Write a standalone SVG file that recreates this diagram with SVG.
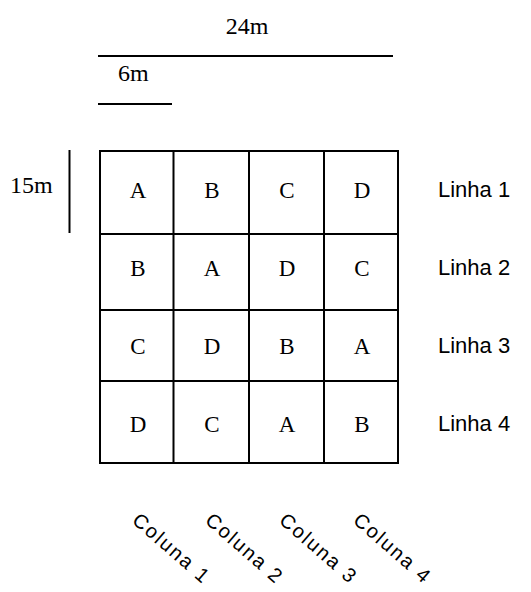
<svg xmlns="http://www.w3.org/2000/svg" width="531" height="592" viewBox="0 0 531 592">
<style>
.ln{stroke:#000;stroke-width:2;fill:none}
.t{font-family:"Liberation Serif","Times New Roman",serif;font-size:23px;fill:#000;text-anchor:middle}
.d{font-family:"Liberation Serif","Times New Roman",serif;font-size:24px;fill:#000}
.s{font-family:"Liberation Sans",Arial,sans-serif;font-size:22px;fill:#000}
.c{font-family:"Liberation Sans",Arial,sans-serif;font-size:20px;letter-spacing:2px;fill:#000}
</style>
<rect width="531" height="592" fill="#fff"/>
<g id="dimensions">
<text class="d" x="247" y="34" text-anchor="middle">24m</text>
<line class="ln" x1="98" y1="56" x2="393" y2="56"/>
<text class="d" x="118" y="81">6m</text>
<line class="ln" x1="98" y1="104" x2="172" y2="104"/>
<text class="d" x="10" y="193">15m</text>
<line class="ln" x1="69.5" y1="150" x2="69.5" y2="233"/>
</g>
<g id="grid">
<line class="ln" x1="99" y1="151" x2="399" y2="151"/>
<line class="ln" x1="99" y1="234" x2="399" y2="234"/>
<line class="ln" x1="99" y1="310" x2="399" y2="310"/>
<line class="ln" x1="99" y1="381" x2="399" y2="381"/>
<line class="ln" x1="99" y1="463" x2="399" y2="463"/>
<line class="ln" x1="100" y1="150" x2="100" y2="464"/>
<line class="ln" x1="173.5" y1="150" x2="173.5" y2="464"/>
<line class="ln" x1="249" y1="150" x2="249" y2="464"/>
<line class="ln" x1="324" y1="150" x2="324" y2="464"/>
<line class="ln" x1="398" y1="150" x2="398" y2="464"/>
</g>
<g id="cells">
<text class="t" x="138" y="198">A</text><text class="t" x="212" y="198">B</text><text class="t" x="287" y="198">C</text><text class="t" x="362" y="198">D</text>
<text class="t" x="138" y="276">B</text><text class="t" x="212" y="276">A</text><text class="t" x="287" y="276">D</text><text class="t" x="362" y="276">C</text>
<text class="t" x="138" y="354">C</text><text class="t" x="212" y="354">D</text><text class="t" x="287" y="354">B</text><text class="t" x="362" y="354">A</text>
<text class="t" x="138" y="432">D</text><text class="t" x="212" y="432">C</text><text class="t" x="287" y="432">A</text><text class="t" x="362" y="432">B</text>
</g>
<g id="rows">
<text class="s" x="438" y="197">Linha 1</text>
<text class="s" x="438" y="275">Linha 2</text>
<text class="s" x="438" y="353">Linha 3</text>
<text class="s" x="438" y="431">Linha 4</text>
</g>
<g id="columns">
<text class="c" transform="translate(131,522) rotate(41)">Coluna 1</text>
<text class="c" transform="translate(204,522) rotate(41)">Coluna 2</text>
<text class="c" transform="translate(278,522) rotate(41)">Coluna 3</text>
<text class="c" transform="translate(352,522) rotate(41)">Coluna 4</text>
</g>
</svg>
